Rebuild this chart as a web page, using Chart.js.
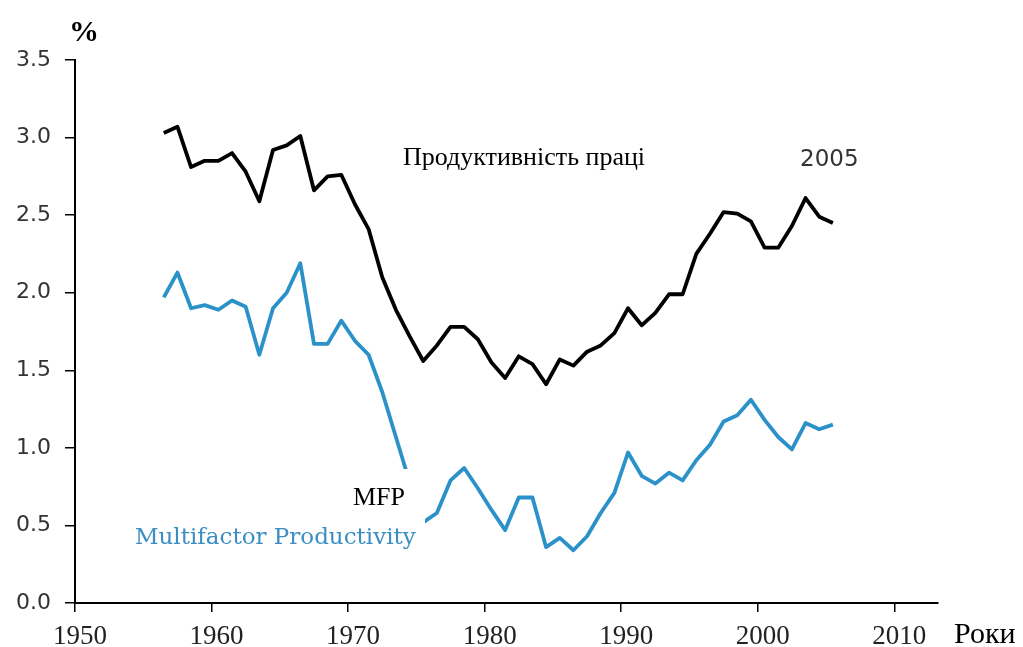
<!DOCTYPE html>
<html lang="uk">
<head>
<meta charset="utf-8">
<title>Продуктивність праці та MFP</title>
<script src="https://cdn.jsdelivr.net/npm/chart.js@4.4.1/dist/chart.umd.min.js"></script>
<style>
  html, body { margin: 0; padding: 0; background: #fff; }
  #wrap { width: 1023px; height: 647px; position: relative; }
</style>
</head>
<body>
<div id="wrap"><canvas id="chart" width="1023" height="647"></canvas></div>
<script>
const YEARS = [
  1956, 1957, 1958, 1959, 1960, 1961, 1962, 1963, 1964, 1965,
  1966, 1967, 1968, 1969, 1970, 1971, 1972, 1973, 1974, 1975,
  1976, 1977, 1978, 1979, 1980, 1981, 1982, 1983, 1984, 1985,
  1986, 1987, 1988, 1989, 1990, 1991, 1992, 1993, 1994, 1995,
  1996, 1997, 1998, 1999, 2000, 2001, 2002, 2003, 2004, 2005
];

// Продуктивність праці, %
const LABOR = [
  3.03, 3.07, 2.81, 2.85, 2.85, 2.90, 2.78, 2.59, 2.92, 2.95,
  3.01, 2.66, 2.75, 2.76, 2.57, 2.41, 2.10, 1.89, 1.72, 1.56,
  1.66, 1.78, 1.78, 1.70, 1.55, 1.45, 1.59, 1.54, 1.41, 1.57,
  1.53, 1.62, 1.66, 1.74, 1.90, 1.79, 1.87, 1.99, 1.99, 2.25,
  2.38, 2.52, 2.51, 2.46, 2.29, 2.29, 2.43, 2.61, 2.49, 2.45
];

// Multifactor Productivity, %
const MFP = [
  1.97, 2.13, 1.90, 1.92, 1.89, 1.95, 1.91, 1.60, 1.90, 2.00,
  2.19, 1.67, 1.67, 1.82, 1.69, 1.60, 1.36, 1.07, 0.78, 0.52,
  0.58, 0.79, 0.87, 0.74, 0.60, 0.47, 0.68, 0.68, 0.36, 0.42,
  0.34, 0.43, 0.58, 0.71, 0.97, 0.82, 0.77, 0.84, 0.79, 0.92,
  1.02, 1.17, 1.21, 1.31, 1.18, 1.07, 0.99, 1.16, 1.12, 1.15
];

const X_TICKS = [1950, 1960, 1970, 1980, 1990, 2000, 2010];
const Y_TICKS = [0, 0.5, 1, 1.5, 2, 2.5, 3, 3.5];

const BLUE = '#2b91c9';

// річні значення ставимо на середину року
function toPoints(values) {
  return YEARS.map((year, i) => ({ x: year + 0.5, y: values[i] }));
}

const annotations = {
  id: 'annotations',
  afterDatasetsDraw(chart) {
    const ctx = chart.ctx;
    ctx.save();
    // біла плашка з підписом MFP поверх лінії
    ctx.fillStyle = '#fff';
    ctx.fillRect(340, 469, 85, 57);
    ctx.fillStyle = '#000';
    ctx.font = '26px "Liberation Serif"';
    ctx.textBaseline = 'alphabetic';
    ctx.fillText('MFP', 353, 505);
    ctx.restore();
  },
  afterDraw(chart) {
    const ctx = chart.ctx;
    ctx.save();
    ctx.textBaseline = 'alphabetic';

    ctx.fillStyle = '#000';
    ctx.font = 'bold 30px "Liberation Serif"';
    ctx.fillText('%', 69, 41);

    ctx.font = '26px "Liberation Serif"';
    ctx.fillText('Продуктивність праці', 403, 165);

    ctx.fillStyle = '#333';
    ctx.font = '23px "DejaVu Sans"';
    ctx.fillText('2005', 800, 166);

    ctx.fillStyle = '#3a8ec2';
    ctx.font = '23px "DejaVu Serif"';
    ctx.fillText('Multifactor Productivity', 135, 544);

    ctx.fillStyle = '#000';
    ctx.font = '30px "Liberation Serif"';
    ctx.fillText('Роки', 954, 643);
    ctx.restore();
  }
};

new Chart(document.getElementById('chart'), {
  type: 'line',
  data: {
    datasets: [
      {
        label: 'Продуктивність праці',
        data: toPoints(LABOR),
        borderColor: '#000',
        borderWidth: 3.8,
        pointRadius: 0,
        tension: 0,
        borderJoinStyle: 'round'
      },
      {
        label: 'MFP',
        data: toPoints(MFP),
        borderColor: BLUE,
        borderWidth: 3.8,
        pointRadius: 0,
        tension: 0,
        borderJoinStyle: 'round'
      }
    ]
  },
  options: {
    responsive: false,
    animation: false,
    layout: { padding: { top: 60, right: 85, left: 0, bottom: 0 } },
    plugins: {
      legend: { display: false },
      tooltip: { enabled: false }
    },
    scales: {
      x: {
        type: 'linear',
        min: 1950,
        max: 2013.2,
        afterBuildTicks: (scale) => { scale.ticks = X_TICKS.map(v => ({ value: v })); },
        afterFit: (scale) => { scale.height = 44; },
        border: { display: true, color: '#000', width: 2 },
        grid: { drawOnChartArea: false, drawTicks: true, tickLength: 9, color: '#000', lineWidth: 1.5 },
        ticks: {
          color: '#222',
          font: { family: '"Liberation Serif"', size: 27 },
          padding: 9,
          labelOffset: 5,
          maxRotation: 0,
          callback: (v) => String(v)
        }
      },
      y: {
        min: 0,
        max: 3.5,
        afterBuildTicks: (scale) => { scale.ticks = Y_TICKS.map(v => ({ value: v })); },
        afterFit: (scale) => { scale.width = 75; },
        border: { display: true, color: '#000', width: 2 },
        grid: { drawOnChartArea: false, drawTicks: true, tickLength: 10, color: '#000', lineWidth: 1.5 },
        ticks: {
          color: '#333',
          font: { family: '"DejaVu Sans"', size: 22 },
          padding: 14,
          callback: (v) => Number(v).toFixed(1)
        }
      }
    }
  },
  plugins: [annotations]
});
</script>
</body>
</html>
